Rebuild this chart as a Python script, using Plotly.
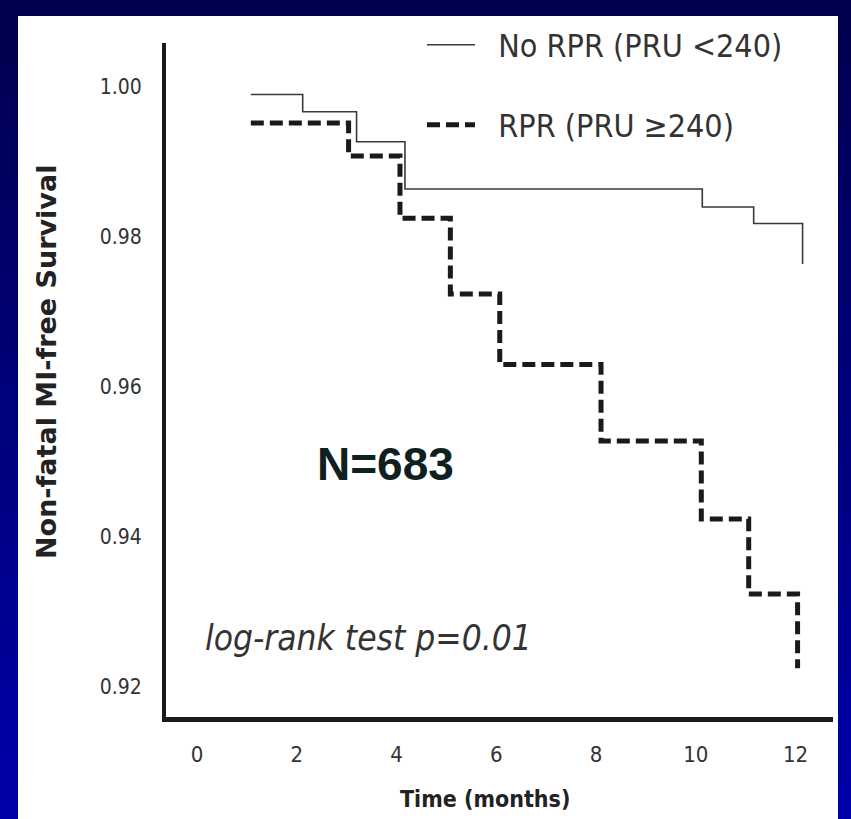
import plotly.graph_objects as go

# ---- data ----
months_no_rpr = [1.08, 2.12, 3.2, 4.17, 10.13, 11.16, 12.14]
surv_no_rpr = [0.9990, 0.9967, 0.9927, 0.9864, 0.9840, 0.9818, 0.9764]

months_rpr = [1.08, 3.04, 4.07, 5.08, 6.07, 8.10, 10.11, 11.06, 12.04]
surv_rpr = [0.9952, 0.9908, 0.9825, 0.9724, 0.9630, 0.9528, 0.9424, 0.9324, 0.9225]

x_ticks = [0, 2, 4, 6, 8, 10, 12]
y_ticks = [0.92, 0.94, 0.96, 0.98, 1.00]
y_tick_text = ["0.92", "0.94", "0.96", "0.98", "1.00"]

names = ["No RPR (PRU <240)", "RPR (PRU \u2265240)"]

COND = "DejaVu Sans Condensed, DejaVu Sans, sans-serif"

W, H = 851, 819
L, R, T, B = 166, 18, 43, 102
PW, PH = W - L - R, H - T - B


def px(xp):
    return (xp - L) / PW


def py(yp):
    return (H - B - yp) / PH


fig = go.Figure()
fig.add_trace(go.Scatter(
    x=months_no_rpr, y=surv_no_rpr, mode="lines", line_shape="hv",
    name="\u00a0\u00a0" + names[0], line=dict(color="#3a3a3a", width=1.6),
    legend="legend"))
fig.add_trace(go.Scatter(
    x=months_rpr, y=surv_rpr, mode="lines", line_shape="hv",
    name="\u00a0\u00a0" + names[1], line=dict(color="#1a1a1a", width=5, dash="13px,6px"),
    legend="legend2"))

# background: navy gradient + white panel
shapes = []
n = 24
top_c = (0x00, 0x00, 0x50)
bot_c = (0x00, 0x00, 0xA8)
for i in range(n):
    f = i / (n - 1)
    c = tuple(int(top_c[k] + (bot_c[k] - top_c[k]) * f) for k in range(3))
    y0p = H * i / n
    y1p = H * (i + 1) / n + 1
    shapes.append(dict(type="rect", xref="paper", yref="paper", layer="below",
                       x0=px(-5), x1=px(W + 5), y0=py(y1p), y1=py(y0p),
                       fillcolor="rgb(%d,%d,%d)" % c, line=dict(width=0)))
shapes.append(dict(type="rect", xref="paper", yref="paper", layer="below",
                   x0=px(18), x1=px(838), y0=py(H + 5), y1=py(16),
                   fillcolor="white", line=dict(width=0)))

annotations = [
    dict(text="Non-fatal MI-free Survival", xref="paper", yref="paper",
         x=px(46), y=py(362), textangle=-90, showarrow=False,
         font=dict(family="DejaVu Sans, sans-serif", size=27, color="#222222", weight="bold"),
         xanchor="center", yanchor="middle"),
    dict(text="Time (months)", xref="paper", yref="paper",
         x=px(485), y=py(799), showarrow=False,
         font=dict(family=COND, size=23, color="#222222", weight="bold"),
         xanchor="center", yanchor="middle"),
    dict(text="N=683", xref="paper", yref="paper",
         x=px(385), y=py(464), showarrow=False,
         font=dict(family="Liberation Sans, Arial, sans-serif", size=46, color="#0f2020", weight="bold"),
         xanchor="center", yanchor="middle"),
    dict(text="log-rank test p=0.01", xref="paper", yref="paper",
         x=px(368), y=py(638), showarrow=False,
         font=dict(family=COND, size=35, color="#333333", style="italic"),
         xanchor="center", yanchor="middle"),
]

fig.update_layout(
    width=W, height=H,
    margin=dict(l=L, r=R, t=T, b=B, pad=0),
    paper_bgcolor="#00007a",
    plot_bgcolor="white",
    shapes=shapes,
    annotations=annotations,
    showlegend=True,
    legend=dict(x=px(422), y=py(45), xanchor="left", yanchor="middle",
                itemwidth=48,
                bgcolor="rgba(0,0,0,0)", borderwidth=0,
                font=dict(family=COND, size=32, color="#333333")),
    legend2=dict(x=px(422), y=py(125), xanchor="left", yanchor="middle",
                 itemwidth=48,
                 bgcolor="rgba(0,0,0,0)", borderwidth=0,
                 font=dict(family=COND, size=32, color="#333333")),
    xaxis=dict(range=[-0.62, 12.75], tickvals=x_ticks, showgrid=False,
               zeroline=False, showline=True, linecolor="#1a1a1a", linewidth=5,
               ticks="", ticklabelstandoff=14,
               tickfont=dict(family=COND, size=22, color="#333333")),
    yaxis=dict(range=[0.916, 1.00587], tickvals=y_ticks, ticktext=y_tick_text,
               showgrid=False, zeroline=False, showline=True,
               linecolor="#1a1a1a", linewidth=4, ticks="", ticklabelstandoff=16,
               tickfont=dict(family=COND, size=21, color="#333333")),
)

fig.write_html("out.html")
